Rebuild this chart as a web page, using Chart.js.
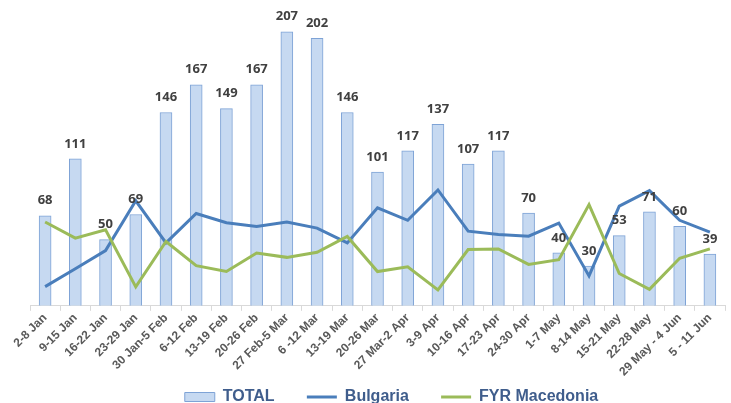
<!DOCTYPE html>
<html>
<head>
<meta charset="utf-8">
<script src="https://cdn.jsdelivr.net/npm/chart.js@4"></script>
<style>
  html, body { margin: 0; padding: 0; background: #fff; }
  #wrap { width: 731px; height: 403px; }
</style>
</head>
<body>
<div id="wrap"><canvas id="weeklyChart" width="731" height="403"></canvas></div>
<script>
// weekly arrivals
const weeks = ["2-8 Jan", "9-15 Jan", "16-22 Jan", "23-29 Jan", "30 Jan-5 Feb", "6-12 Feb", "13-19 Feb",
  "20-26 Feb", "27 Feb-5 Mar", "6 -12 Mar", "13-19 Mar", "20-26 Mar", "27 Mar-2 Apr", "3-9 Apr",
  "10-16 Apr", "17-23 Apr", "24-30 Apr", "1-7 May", "8-14 May", "15-21 May", "22-28 May",
  "29 May - 4 Jun", "5 - 11 Jun"];
const total = [68, 111, 50, 69, 146, 167, 149, 167, 207, 202, 146, 101, 117, 137, 107, 117, 70, 40, 30, 53, 71, 60, 39];
const bulgaria = [14.5, 28, 41.7, 79.3, 47.5, 69.7, 62.8, 60, 63.3, 58.7, 47.5, 74, 64.6, 87.5, 56.4, 53.9, 52.6, 62.5, 22.6, 75.3, 87, 64.6, 55.7];
const macedonia = [63.3, 51.1, 57.4, 14.3, 48.6, 30.3, 25.9, 39.9, 36.6, 40.4, 52.4, 25.9, 29.5, 12, 42.5, 43, 31.3, 34.9, 76.5, 24.4, 12.4, 35.9, 43];

// value labels on top of the bars
const barLabels = {
  id: "barLabels",
  afterDatasetsDraw(chart) {
    const ctx = chart.ctx;
    const meta = chart.getDatasetMeta(0);
    ctx.save();
    ctx.font = "bold 13px 'Open Sans', sans-serif";
    ctx.fillStyle = "#404040";
    ctx.textAlign = "center";
    ctx.textBaseline = "middle";
    meta.data.forEach((bar, i) => {
      ctx.fillText(total[i], bar.x, bar.y - 15);
    });
    ctx.restore();
  }
};

// legend sits a bit right of the plot centre in the original
const legendShift = {
  id: "legendShift",
  afterLayout(chart) {
    chart.legend.left += 14;
    chart.legend.right += 14;
  }
};

new Chart(document.getElementById("weeklyChart"), {
  type: "bar",
  data: {
    labels: weeks,
    datasets: [
      {
        label: "TOTAL",
        data: total,
        backgroundColor: "#c6d9f1",
        borderColor: "#7ea3d6",
        borderWidth: 1,
        barThickness: 12,
        pointStyle: "rect",
        order: 2
      },
      {
        type: "line",
        label: "Bulgaria",
        data: bulgaria,
        borderColor: "#4a7ebb",
        backgroundColor: "#4a7ebb",
        borderWidth: 3,
        pointRadius: 0,
        tension: 0,
        pointStyle: "line",
        order: 1
      },
      {
        type: "line",
        label: "FYR Macedonia",
        data: macedonia,
        borderColor: "#9bbb59",
        backgroundColor: "#9bbb59",
        borderWidth: 3,
        pointRadius: 0,
        tension: 0,
        pointStyle: "line",
        order: 0
      }
    ]
  },
  options: {
    responsive: false,
    animation: false,
    layout: { padding: { top: 0, right: 6, left: 30, bottom: -12 } },
    scales: {
      x: {
        offset: true,
        grid: { display: true, drawOnChartArea: false, drawTicks: true, tickLength: 5, color: "#d9d9d9", offset: true },
        border: { display: true, color: "#d9d9d9" },
        ticks: {
          maxRotation: 45,
          minRotation: 45,
          autoSkip: false,
          color: "#595959",
          padding: 0,
          font: { family: "'Liberation Sans', Arial, sans-serif", size: 12, weight: "bold" }
        }
      },
      y: {
        display: false,
        min: 0,
        max: 231
      }
    },
    plugins: {
      tooltip: { enabled: false },
      legend: {
        position: "bottom",
        labels: {
          usePointStyle: true,
          pointStyleWidth: 30,
          boxHeight: 9,
          padding: 10,
          color: "#3f5d8c",
          font: { family: "'Liberation Sans', Arial, sans-serif", size: 16, weight: "bold" },
          sort: (a, b) => a.datasetIndex - b.datasetIndex,
          generateLabels(chart) {
            const items = Chart.defaults.plugins.legend.labels.generateLabels(chart);
            items.forEach((it) => { if (it.datasetIndex < 2) it.text += "     "; });
            return items;
          }
        }
      }
    }
  },
  plugins: [barLabels, legendShift]
});
</script>
</body>
</html>
